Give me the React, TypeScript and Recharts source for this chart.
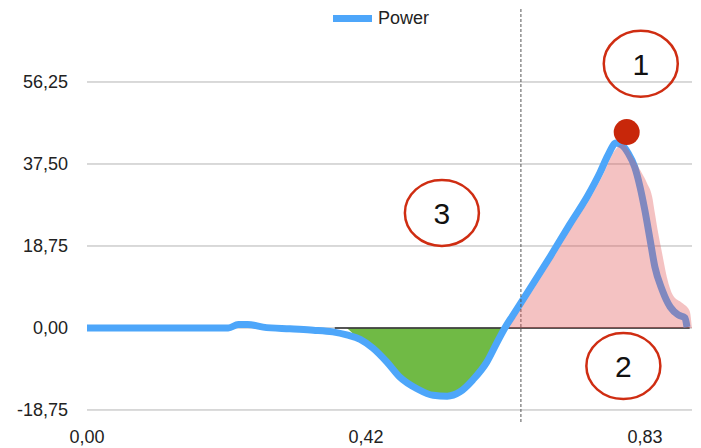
import {
  ComposedChart,
  Line,
  Area,
  XAxis,
  YAxis,
  ReferenceLine,
  ReferenceDot,
  Legend,
} from "recharts";

// time (s) and power values
const timeSec = [
  0, 0.094, 0.169, 0.211, 0.226, 0.24, 0.263, 0.303, 0.338, 0.367, 0.388,
  0.408, 0.427, 0.448, 0.467, 0.493, 0.517, 0.538, 0.557, 0.576, 0.597,
  0.612, 0.624, 0.636, 0.662, 0.692, 0.721, 0.748, 0.766, 0.778, 0.79,
  0.799, 0.808, 0.818, 0.826, 0.833, 0.841, 0.848, 0.859, 0.871, 0.883,
  0.893, 0.896,
];
const power = [
  0, 0, 0, 0, 0.8, 0.8, 0.2, -0.2, -0.5, -0.9, -1.6, -2.6, -4.6, -7.8,
  -11.2, -13.9, -15.4, -15.6, -14.6, -11.9, -7.8, -3.4, 0, 2.9, 9.1, 16.4,
  23.7, 30.3, 35.5, 39.5, 42.3, 41.8, 40.0, 36.8, 32.2, 27.0, 20.1, 14.0,
  8.7, 4.8, 3.0, 2.3, 0.2,
];

// shaded positive work area (pink)
const posTime = [
  0.63, 0.642, 0.668, 0.698, 0.727, 0.754, 0.772, 0.784, 0.794, 0.8, 0.815,
  0.826, 0.836, 0.844, 0.848, 0.853, 0.86, 0.866, 0.875, 0.889, 0.9, 0.9035,
];
const posPower = [
  0, 2.9, 9.1, 16.4, 23.7, 30.3, 35.5, 39.5, 41.6, 42.0, 39.1, 36.1, 33.2,
  30.0, 26.3, 21.7, 16.2, 11.6, 7.5, 5.7, 3.9, 0,
];

const yTicks = [-18.75, 0, 18.75, 37.5, 56.25];
const xTicks = [0, 5 / 12, 10 / 12];

const peak = { t: 0.806, p: 44.8 };
const notes = [
  { label: "1", t: 0.827, p: 60.4 },
  { label: "2", t: 0.801, p: -8.7 },
  { label: "3", t: 0.53, p: 26.3 },
];

const powerData = timeSec.map((t, i) => ({ t, p: power[i] }));
const negData = [
  { t: 0.388, p: 0 },
  ...powerData.filter((d) => d.t > 0.39 && d.t < 0.624),
  { t: 0.624, p: 0 },
];
const posData = posTime.map((t, i) => ({ t, p: posPower[i] }));

const font = "'Liberation Sans', Arial, sans-serif";
const fmt = (v: number) => v.toFixed(2).replace(".", ",");

const Note = (label: string) => (props: any) => (
  <g>
    <ellipse
      cx={props.cx}
      cy={props.cy}
      rx={37}
      ry={33}
      fill="none"
      stroke="#cf2d12"
      strokeWidth={2.5}
    />
    <text
      x={props.cx}
      y={props.cy}
      dy="0.36em"
      textAnchor="middle"
      fontSize={30}
      fontFamily={font}
      fill="#111"
    >
      {label}
    </text>
  </g>
);

export default function App() {
  return (
    <div style={{ position: "absolute", left: 0, top: 0, fontFamily: font }}>
      <ComposedChart
        width={701}
        height={448}
        margin={{ top: 7, right: 9, left: 0, bottom: 0 }}
      >
        <XAxis
          dataKey="t"
          type="number"
          domain={[0, 0.9035]}
          ticks={xTicks}
          tickFormatter={fmt}
          axisLine={false}
          tickLine={false}
          height={26}
          allowDataOverflow
          tick={{ fill: "#222", fontSize: 18, fontFamily: font }}
        />
        <YAxis
          type="number"
          domain={[-21.5, 73.4]}
          ticks={yTicks}
          tickFormatter={fmt}
          axisLine={false}
          tickLine={false}
          width={87}
          tickMargin={13}
          allowDataOverflow
          tick={{ fill: "#222", fontSize: 18, fontFamily: font }}
        />
        {yTicks.map((v) => (
          <ReferenceLine key={v} y={v} stroke="#b4b4b4" />
        ))}
        <Legend
          layout="vertical"
          align="center"
          verticalAlign="middle"
          wrapperStyle={{ top: 8, left: 333, width: 140 }}
          content={() => (
            <div
              style={{
                display: "flex",
                alignItems: "center",
                fontFamily: font,
                fontSize: 18,
                color: "#222",
              }}
            >
              <span
                style={{
                  display: "inline-block",
                  width: 39,
                  height: 7,
                  background: "#4da6fa",
                  marginRight: 6,
                }}
              />
              Power
            </div>
          )}
        />
        <Area
          data={negData}
          dataKey="p"
          type="monotone"
          fill="#70ba45"
          fillOpacity={1}
          stroke="none"
          isAnimationActive={false}
          legendType="none"
        />
        <ReferenceLine
          segment={[
            { x: 0.37, y: 0 },
            { x: 0.9, y: 0 },
          ]}
          stroke="#2a2a2a"
          strokeWidth={1.5}
        />
        <Line
          data={powerData}
          dataKey="p"
          name="Power"
          type="monotone"
          stroke="#4da6fa"
          strokeWidth={7}
          dot={false}
          isAnimationActive={false}
        />
        <Area
          data={posData}
          dataKey="p"
          type="monotone"
          fill="#e05050"
          fillOpacity={0.35}
          stroke="none"
          isAnimationActive={false}
          legendType="none"
          {...({ zIndex: 650 } as any)}
        />
        <ReferenceLine
          x={0.648}
          stroke="#555"
          strokeDasharray="3 2"
        />
        <ReferenceDot
          x={peak.t}
          y={peak.p}
          r={13}
          fill="#c8270a"
          stroke="none"
        />
        {notes.map((n) => (
          <ReferenceDot
            key={n.label}
            x={n.t}
            y={n.p}
            r={35}
            shape={Note(n.label)}
          />
        ))}
      </ComposedChart>
    </div>
  );
}
